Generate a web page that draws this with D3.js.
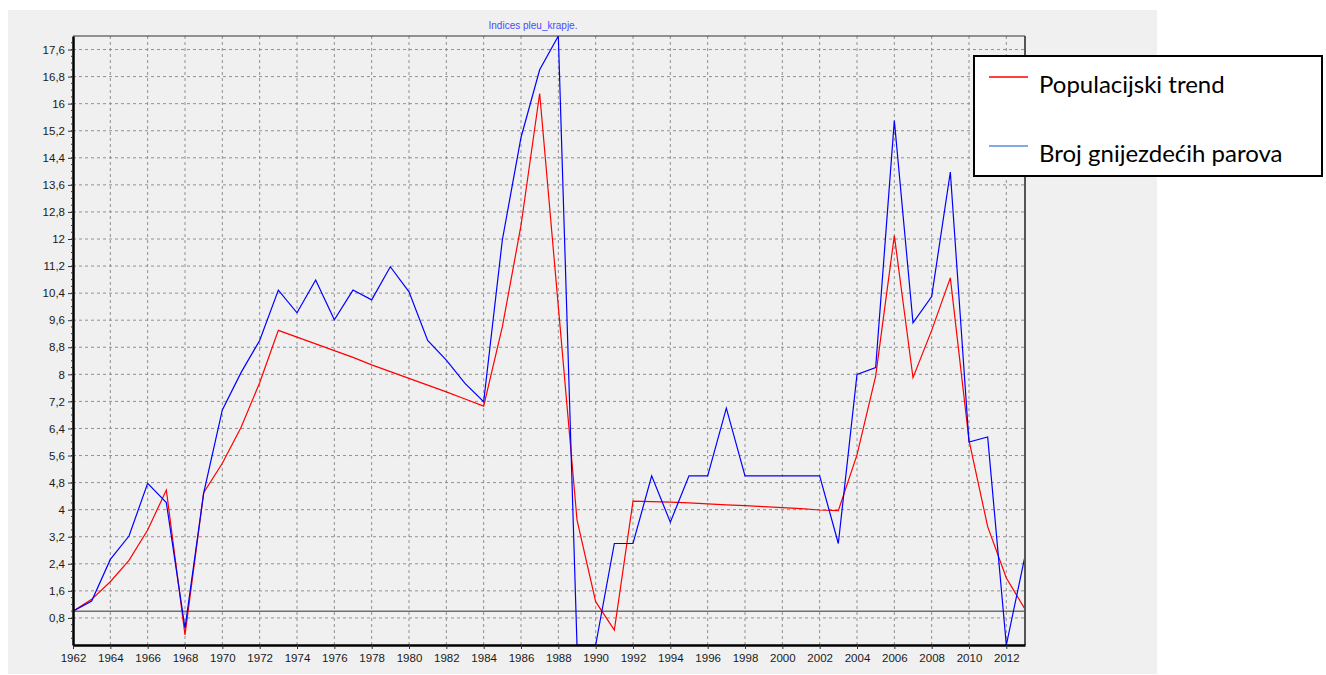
<!DOCTYPE html>
<html>
<head>
<meta charset="utf-8">
<script src="https://cdn.jsdelivr.net/npm/d3@7"></script>
<style>
  body { margin: 0; background: #fff; }
</style>
</head>
<body>
<div id="chart"></div>
<script>
// Years on the x axis
const years = d3.range(1962, 2014);

// Populacijski trend (red)
const trendValues = [
  1.0, 1.35, 1.87, 2.5, 3.4, 4.58, 0.3, 4.5, 5.37, 6.43,
  7.75, 9.3, 9.1, 8.9, 8.7, 8.5, 8.28, 8.08, 7.88, 7.68,
  7.48, 7.27, 7.06, 9.4, 12.4, 16.3, 10.0, 3.7, 1.28, 0.44,
  4.25, 4.24, 4.22, 4.2, 4.17, 4.14, 4.12, 4.09, 4.06, 4.03,
  3.99, 3.97, 5.62, 7.95, 12.1, 7.9, 9.3, 10.85, 6.05, 3.5,
  1.98, 1.06
];

// Broj gnijezdećih parova (blue)
const pairValues = [
  1.0, 1.3, 2.53, 3.22, 4.78, 4.21, 0.5, 4.49, 6.95, 8.05,
  9.0, 10.49, 9.82, 10.79, 9.61, 10.49, 10.2, 11.18, 10.44, 9.0,
  8.42, 7.73, 7.19, 11.97, 15.0, 17.0, 18.0, 0, 0, 3.0,
  3.0, 5.0, 3.63, 5.0, 5.0, 7.0, 5.0, 5.0, 5.0, 5.0,
  5.0, 3.0, 8.0, 8.2, 15.5, 9.52, 10.3, 13.98, 6.0, 6.15,
  0, 2.63
];

const yTicks = d3.range(1, 23).map(i => +(i * 0.8).toFixed(1));
const xTicks = d3.range(1962, 2013, 2);
const legendLabels = ["Populacijski trend", "Broj gnijezdećih parova"];
const legendColors = ["#ff0000", "#5b8ed8"];

const W = 1326, H = 675;
const margin = { top: 36, right: 301, bottom: 30, left: 73 },
    width = W - margin.left - margin.right,
    height = H - margin.top - margin.bottom;

const svg = d3.select("#chart").append("svg")
    .attr("width", W)
    .attr("height", H)
    .style("display", "block");

// gray panel behind the chart
svg.append("rect")
    .attr("x", 8).attr("y", 10)
    .attr("width", 1149).attr("height", 664)
    .attr("fill", "#f0f0f0");

const g = svg.append("g")
    .attr("transform", `translate(${margin.left},${margin.top})`);

const x = d3.scaleLinear().domain([1962, 2013]).range([0, width]);
const y = d3.scaleLinear().domain([0, 18]).range([height, 0]);

const fmt = v => String(v).replace(".", ",");

// grid
g.append("g")
    .selectAll("line")
    .data(yTicks)
    .join("line")
    .attr("x1", 0).attr("x2", width)
    .attr("y1", d => y(d)).attr("y2", d => y(d))
    .attr("stroke", "#909090")
    .attr("stroke-dasharray", "3,3");

g.append("g")
    .selectAll("line")
    .data(xTicks.slice(1))
    .join("line")
    .attr("x1", d => x(d)).attr("x2", d => x(d))
    .attr("y1", 0).attr("y2", height)
    .attr("stroke", "#909090")
    .attr("stroke-dasharray", "3,3");

// reference line at 1
g.append("line")
    .attr("x1", 0).attr("x2", width)
    .attr("y1", y(1)).attr("y2", y(1))
    .attr("stroke", "#707070")
    .attr("stroke-width", 1.5);

// series
g.append("clipPath").attr("id", "plotclip")
    .append("rect").attr("width", width).attr("height", height);

const line = d3.line()
    .x((d, i) => x(years[i]))
    .y(d => y(d));

const series = g.append("g").attr("clip-path", "url(#plotclip)");
series.append("path")
    .datum(trendValues)
    .attr("d", line)
    .attr("fill", "none")
    .attr("stroke", "#ff0000")
    .attr("stroke-width", 1.2);

series.append("path")
    .datum(pairValues)
    .attr("d", line)
    .attr("fill", "none")
    .attr("stroke", "#0000ff")
    .attr("stroke-width", 1.2);

// frame: top and right thin, left and bottom thick
g.append("line").attr("x1", 0).attr("x2", width).attr("y1", 0).attr("y2", 0)
    .attr("stroke", "#333").attr("stroke-width", 1.2);
g.append("line").attr("x1", width).attr("x2", width).attr("y1", 0).attr("y2", height)
    .attr("stroke", "#555").attr("stroke-width", 2);

// y axis
const yAxis = g.append("g")
    .call(d3.axisLeft(y).tickValues(yTicks).tickSize(5).tickSizeOuter(0).tickFormat(fmt));
yAxis.select(".domain").attr("stroke", "#000").attr("stroke-width", 2.5);
yAxis.selectAll(".tick line").attr("stroke", "#333");
yAxis.selectAll("text")
    .attr("font-family", "Liberation Sans, Arial, sans-serif")
    .attr("font-size", "11.5px")
    .attr("fill", "#1a1a1a");

// minor ticks on the y axis
g.append("g")
    .selectAll("line")
    .data(d3.range(1, 90).map(i => i * 0.2))
    .join("line")
    .attr("x1", -2).attr("x2", 0)
    .attr("y1", d => y(d)).attr("y2", d => y(d))
    .attr("stroke", "#333");

// x axis
const xAxis = g.append("g")
    .attr("transform", `translate(0,${height})`)
    .call(d3.axisBottom(x).tickValues(xTicks).tickSize(4).tickSizeOuter(0).tickFormat(d3.format("d")));
xAxis.select(".domain").attr("stroke", "#000").attr("stroke-width", 2.5);
xAxis.selectAll(".tick line").attr("stroke", "#333");
xAxis.selectAll("text")
    .attr("font-family", "Liberation Sans, Arial, sans-serif")
    .attr("font-size", "11.5px")
    .attr("fill", "#1a1a1a")
    .attr("dy", "0.85em");

// title
svg.append("text")
    .attr("x", 533)
    .attr("y", 29)
    .attr("text-anchor", "middle")
    .attr("font-family", "Liberation Sans, Arial, sans-serif")
    .attr("font-size", "10px")
    .attr("fill", "#4a4aff")
    .text("Indices pleu_krapje.");

// legend
const legend = svg.append("g");
legend.append("rect")
    .attr("x", 974).attr("y", 56)
    .attr("width", 348).attr("height", 120)
    .attr("fill", "#fff")
    .attr("stroke", "#000")
    .attr("stroke-width", 2);

legendLabels.forEach((label, i) => {
    const ly = 77 + i * 69;
    legend.append("line")
        .attr("x1", 989).attr("x2", 1028)
        .attr("y1", ly).attr("y2", ly)
        .attr("stroke", legendColors[i])
        .attr("stroke-width", 1.5);
    legend.append("text")
        .attr("x", 1039)
        .attr("y", ly + 16)
        .attr("font-family", "Lato, 'Open Sans', sans-serif")
        .attr("font-size", "24px")
        .attr("fill", "#000")
        .text(label);
});
</script>
</body>
</html>
